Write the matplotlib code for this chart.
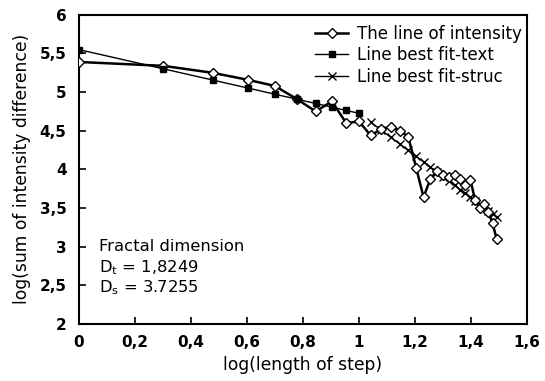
import numpy as np
import matplotlib
matplotlib.use("Agg")
import matplotlib.pyplot as plt

plt.rcParams['font.family'] = ['DejaVu Sans']
plt.rcParams['mathtext.fontset'] = 'custom'
plt.rcParams['mathtext.rm'] = 'DejaVu Sans'
plt.rcParams['mathtext.it'] = 'DejaVu Sans'

steps = np.arange(1, 32)
log_step = np.log10(steps)
intensity = [5.39, 5.34, 5.25, 5.16, 5.08, 4.91, 4.75, 4.88, 4.60, 4.62,
             4.44, 4.52, 4.55, 4.50, 4.42, 4.02, 3.64, 3.88, 3.98, 3.93,
             3.90, 3.93, 3.88, 3.80, 3.86, 3.60, 3.50, 3.55, 3.45, 3.30, 3.10]
text_steps = np.arange(1, 11)
text_intercept = 5.55
text_D = 1.8249
struc_steps = np.arange(11, 32)
struc_intercept = 7.45
struc_D = 3.7255

x_text = np.log10(text_steps)
y_text = text_intercept + (1 - text_D) * x_text
x_struc = np.log10(struc_steps)
y_struc = struc_intercept + (1 - struc_D) * x_struc

fig = plt.figure(figsize=(5.45, 3.81), dpi=100)
ax = fig.add_axes([0.145, 0.150, 0.822, 0.811])

ax.plot(log_step, intensity, color='black', lw=1.8, marker='D', ms=5.5,
        mfc='white', mec='black', mew=1.0, label='The line of intensity', zorder=3)
ax.plot(x_text, y_text, color='black', lw=1.0, marker='s', ms=4.5,
        mfc='black', mec='black', label='Line best fit-text', zorder=4)
ax.plot(x_struc, y_struc, color='black', lw=1.0, marker='x', ms=6,
        mew=1.0, label='Line best fit-struc', zorder=2)

ax.set_xlim(0, 1.6)
ax.set_ylim(2, 6)
xt = np.arange(0, 1.61, 0.2)
yt = np.arange(2, 6.01, 0.5)
ax.set_xticks(xt)
ax.set_yticks(yt)
ax.set_xticklabels([('%g' % v).replace('.', ',') for v in xt], fontweight='bold', fontsize=11)
ax.set_yticklabels([('%g' % v).replace('.', ',') for v in yt], fontweight='bold', fontsize=11)
ax.tick_params(axis='y', direction='in', length=5, width=1.2, pad=9)
ax.tick_params(axis='x', direction='in', length=5, width=1.2, pad=8)
for s in ax.spines.values():
    s.set_linewidth(1.5)

ax.set_xlabel('log(length of step)', fontsize=12.3, labelpad=4)
ax.set_ylabel('log(sum of intensity difference)', fontsize=12.3, labelpad=6)

leg = ax.legend(loc='upper right', bbox_to_anchor=(1.01, 1.0), frameon=False,
                fontsize=12, handlelength=2.0, borderaxespad=0.2,
                labelspacing=0.2, handletextpad=0.5)

ax.text(0.07, 3.0, 'Fractal dimension', fontsize=11.8, va='center')
ax.text(0.07, 2.73, r'D$_\mathrm{t}$ = 1,8249', fontsize=11.8, va='center')
ax.text(0.07, 2.47, r'D$_\mathrm{s}$ = 3.7255', fontsize=11.8, va='center')

fig.savefig('out.png', dpi=100)
